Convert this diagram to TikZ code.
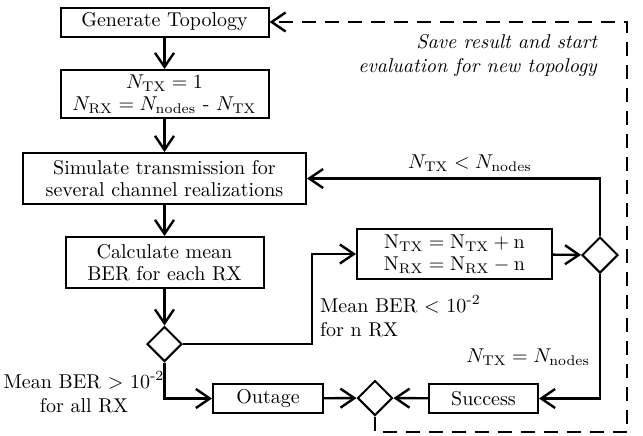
\documentclass[tikz,border=0pt]{standalone}
\usepackage{amsmath,amssymb}
\usepackage{tikz}
\usetikzlibrary{arrows.meta,shapes.geometric}
\newcommand{\TX}{\mathrm{TX}}
\newcommand{\RX}{\mathrm{RX}}
\newcommand{\nds}{\mathrm{nodes}}

\tikzset{
	block/.style = {draw, line width=1pt, align=center, inner sep=1pt},
	decide/.style = {draw, diamond, line width=1pt, inner sep=0pt, minimum width=17.5pt, minimum height=17.5pt},
	flow/.style = {line width=1.2pt, ->},
}

\begin{document}
\begin{tikzpicture} [x = 0.5pt, y = -0.5pt, >={Straight Barb[length=7pt,width=9.5pt]}]
	\useasboundingbox (0,0) rectangle (643,435);
	% main column
	\node [block, minimum width=104pt, minimum height=14.5pt] (gen) at (164.5,22) {Generate Topology};
	\node [block, minimum width=104pt, minimum height=24pt] (init) at (164.5,94) {$N_{\TX} = 1$\\[-1pt] $N_{\RX} = N_{\nds}$ - $N_{\TX}$};
	\node [block, minimum width=141.5pt, minimum height=25.5pt] (sim) at (164.5,178.5) {Simulate transmission for\\[-1pt] several channel realizations};
	\node [block, minimum width=99pt, minimum height=25.5pt] (calc) at (164.5,262.5) {Calculate mean\\[-1pt] BER for each RX};
	\node [decide] (ber) at (164.5,344) {};
	\node [block, minimum width=55pt, minimum height=14.5pt] (out) at (268,398.5) {Outage};
	\node [decide] (merge) at (375,398) {};
	\node [block, minimum width=54.5pt, minimum height=14.5pt] (succ) at (483.5,398.5) {Success};
	\node [block, minimum width=97.5pt, minimum height=25pt] (upd) at (454.5,254) {$\mathrm{N_{TX} = N_{TX} + n}$\\[-1pt] $\mathrm{N_{RX} = N_{RX} - n}$};
	\node [decide, minimum width=18pt, minimum height=18pt] (cnt) at (600,255) {};
	%\node [decide] (cnt) at (600,255) {};
	\coordinate (bend) at (312,344);
	\coordinate (loop) at (627,432);

	\draw [flow] (gen) -- (init);
	\draw [flow] (init) -- (sim);
	\draw [flow] (sim) -- (calc);
	\draw [flow] (calc) -- (ber);
	\draw [flow] (ber.south) |- (out.west);
	\draw [flow] (ber.east) -- (bend) |- (upd.west);
	\draw [flow] (upd) -- (cnt);
	\draw [flow] (cnt.north) |- (sim.east);
	\draw [flow] (cnt.south) |- (succ.east);
	\draw [flow] (out) -- (merge);
	\draw [flow] (succ) -- (merge);
	\draw [flow, dash pattern=on 7pt off 4.5pt] (merge.south) |- (loop) |- (gen.east);

	% labels
	\node [align=right, anchor=east, font=\itshape] (save) at (604,55) {Save result and start\\ evaluation for new topology};
	\node (less) at (470,163) {$N_{\TX} < N_{\nds}$};
	\node [anchor=east] (equal) at (597,357) {$N_{\TX} = N_{\nds}$};
	\node [align=left, anchor=west] (some) at (313,316) {Mean BER $<$ 10\textsuperscript{-2}\\ for n RX};
	\node [align=center] (all) at (84,392) {Mean BER $>$ 10\textsuperscript{-2}\\ for all RX};
\end{tikzpicture}
\end{document}
